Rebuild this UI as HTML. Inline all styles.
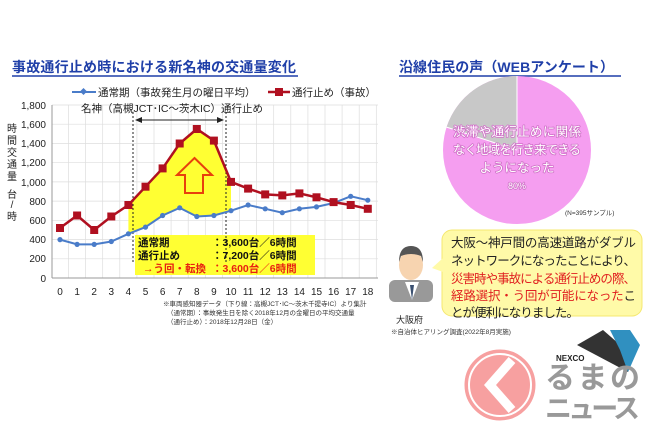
<!DOCTYPE html>
<html><head><meta charset="utf-8"><style>
body{margin:0;background:#fff;width:650px;height:433px;overflow:hidden;font-family:"Liberation Sans","Noto Sans CJK JP",sans-serif}
svg text{font-family:"Liberation Sans","Noto Sans CJK JP",sans-serif}
</style></head><body>
<svg width="650" height="433" viewBox="0 0 650 433">
<rect width="650" height="433" fill="#fff"/>
<text x="12" y="72" font-size="14" font-weight="bold" fill="#1f3fa8" textLength="284">事故通行止め時における新名神の交通量変化</text>
<line x1="12" y1="76" x2="298" y2="76" stroke="#1f3fa8" stroke-width="1.5"/>
<line x1="72" y1="92" x2="96" y2="92" stroke="#4a7cc9" stroke-width="2"/><rect x="81" y="89" width="5" height="5" fill="#4a7cc9" transform="rotate(45 83.5 91.5)"/>
<text x="98" y="96" font-size="10.5" fill="#222">通常期（事故発生月の曜日平均）</text>
<line x1="268" y1="92" x2="290" y2="92" stroke="#b01020" stroke-width="2.5"/><rect x="275" y="88" width="8" height="8" fill="#b01020"/>
<text x="292" y="96" font-size="10.5" fill="#222">通行止め（事故）</text>
<g stroke="#ddd" stroke-width="0.7">
<line x1="52" y1="105" x2="378" y2="105"/><line x1="52" y1="124.2" x2="378" y2="124.2"/><line x1="52" y1="143.4" x2="378" y2="143.4"/><line x1="52" y1="162.7" x2="378" y2="162.7"/><line x1="52" y1="181.9" x2="378" y2="181.9"/><line x1="52" y1="201.1" x2="378" y2="201.1"/><line x1="52" y1="220.3" x2="378" y2="220.3"/><line x1="52" y1="239.6" x2="378" y2="239.6"/><line x1="52" y1="258.8" x2="378" y2="258.8"/>
<line x1="68.5" y1="105" x2="68.5" y2="278"/><line x1="85.6" y1="105" x2="85.6" y2="278"/><line x1="102.7" y1="105" x2="102.7" y2="278"/><line x1="119.8" y1="105" x2="119.8" y2="278"/><line x1="136.9" y1="105" x2="136.9" y2="278"/><line x1="154" y1="105" x2="154" y2="278"/><line x1="171.1" y1="105" x2="171.1" y2="278"/><line x1="188.2" y1="105" x2="188.2" y2="278"/><line x1="205.3" y1="105" x2="205.3" y2="278"/><line x1="222.4" y1="105" x2="222.4" y2="278"/><line x1="239.5" y1="105" x2="239.5" y2="278"/><line x1="256.6" y1="105" x2="256.6" y2="278"/><line x1="273.7" y1="105" x2="273.7" y2="278"/><line x1="290.8" y1="105" x2="290.8" y2="278"/><line x1="307.9" y1="105" x2="307.9" y2="278"/><line x1="325" y1="105" x2="325" y2="278"/><line x1="342.1" y1="105" x2="342.1" y2="278"/><line x1="359.2" y1="105" x2="359.2" y2="278"/><line x1="376.3" y1="105" x2="376.3" y2="278"/>
</g>
<line x1="52" y1="105" x2="52" y2="278" stroke="#999"/><line x1="52" y1="278" x2="378" y2="278" stroke="#999"/>
<g font-size="10" fill="#222" text-anchor="end">
<text x="46" y="109">1,800</text><text x="46" y="128">1,600</text><text x="46" y="147">1,400</text><text x="46" y="166">1,200</text><text x="46" y="186">1,000</text><text x="46" y="205">800</text><text x="46" y="224">600</text><text x="46" y="243">400</text><text x="46" y="262">200</text><text x="46" y="282">0</text>
</g>
<g font-size="10" fill="#222" text-anchor="middle">
<text x="60" y="295">0</text><text x="77.1" y="295">1</text><text x="94.2" y="295">2</text><text x="111.3" y="295">3</text><text x="128.4" y="295">4</text><text x="145.5" y="295">5</text><text x="162.6" y="295">6</text><text x="179.7" y="295">7</text><text x="196.8" y="295">8</text><text x="213.9" y="295">9</text><text x="231" y="295">10</text><text x="248.1" y="295">11</text><text x="265.2" y="295">12</text><text x="282.3" y="295">13</text><text x="299.4" y="295">14</text><text x="316.5" y="295">15</text><text x="333.6" y="295">16</text><text x="350.7" y="295">17</text><text x="367.8" y="295">18</text>
</g>
<g font-size="10" fill="#222" text-anchor="middle">
<text x="12" y="132">時</text><text x="12" y="144">間</text><text x="12" y="156">交</text><text x="12" y="168">通</text><text x="12" y="180">量</text><text x="12" y="198">台</text><text x="12" y="208">/</text><text x="12" y="220">時</text>
</g>
<polygon points="128.4,205 145.5,186.7 162.6,168.4 179.7,143.5 196.8,129 213.9,140.6 231,181.9 231,210.7 213.9,215.5 196.8,216.5 179.7,207.8 162.6,215.5 145.5,227.1 128.4,233.8" fill="#ffff33"/>
<rect x="135" y="235" width="180" height="40" fill="#ffff33"/>
<text x="172" y="112" font-size="10.5" fill="#222" text-anchor="middle">名神（高槻JCT･IC～茨木IC）通行止め</text>
<line x1="133" y1="112" x2="133" y2="262" stroke="#222" stroke-dasharray="2,2"/>
<line x1="226" y1="112" x2="226" y2="262" stroke="#222" stroke-dasharray="2,2"/>
<line x1="137" y1="120" x2="222" y2="120" stroke="#222"/><polygon points="135,120 142,117 142,123" fill="#222"/><polygon points="224,120 217,117 217,123" fill="#222"/>
<polygon points="194.5,158 212,175 203,175 203,193 185,193 185,175 177,175" fill="none" stroke="#e8400c" stroke-width="2"/>
<polyline points="60,239.6 77.1,244.4 94.2,244.4 111.3,241.5 128.4,233.8 145.5,227.1 162.6,215.5 179.7,207.8 196.8,216.5 213.9,215.5 231,210.7 248.1,205 265.2,208.8 282.3,212.7 299.4,208.8 316.5,206.9 333.6,203 350.7,196.3 367.8,200.2" fill="none" stroke="#4a7cc9" stroke-width="2"/>
<g fill="#4a7cc9"><circle cx="60" cy="239.6" r="2.6"/><circle cx="77.1" cy="244.4" r="2.6"/><circle cx="94.2" cy="244.4" r="2.6"/><circle cx="111.3" cy="241.5" r="2.6"/><circle cx="128.4" cy="233.8" r="2.6"/><circle cx="145.5" cy="227.1" r="2.6"/><circle cx="162.6" cy="215.5" r="2.6"/><circle cx="179.7" cy="207.8" r="2.6"/><circle cx="196.8" cy="216.5" r="2.6"/><circle cx="213.9" cy="215.5" r="2.6"/><circle cx="231" cy="210.7" r="2.6"/><circle cx="248.1" cy="205" r="2.6"/><circle cx="265.2" cy="208.8" r="2.6"/><circle cx="282.3" cy="212.7" r="2.6"/><circle cx="299.4" cy="208.8" r="2.6"/><circle cx="316.5" cy="206.9" r="2.6"/><circle cx="333.6" cy="203" r="2.6"/><circle cx="350.7" cy="196.3" r="2.6"/><circle cx="367.8" cy="200.2" r="2.6"/></g>
<polyline points="60,228 77.1,215.5 94.2,230 111.3,216.5 128.4,205 145.5,186.7 162.6,168.4 179.7,143.5 196.8,129 213.9,140.6 231,181.9 248.1,188.6 265.2,194.4 282.3,195.4 299.4,193.4 316.5,197.3 333.6,202.1 350.7,205 367.8,208.8" fill="none" stroke="#b01020" stroke-width="2.5"/>
<g fill="#b01020"><rect x="56" y="224" width="8" height="8"/><rect x="73.1" y="211.5" width="8" height="8"/><rect x="90.2" y="226" width="8" height="8"/><rect x="107.3" y="212.5" width="8" height="8"/><rect x="124.4" y="201" width="8" height="8"/><rect x="141.5" y="182.7" width="8" height="8"/><rect x="158.6" y="164.4" width="8" height="8"/><rect x="175.7" y="139.5" width="8" height="8"/><rect x="192.8" y="125" width="8" height="8"/><rect x="209.9" y="136.6" width="8" height="8"/><rect x="227" y="177.9" width="8" height="8"/><rect x="244.1" y="184.6" width="8" height="8"/><rect x="261.2" y="190.4" width="8" height="8"/><rect x="278.3" y="191.4" width="8" height="8"/><rect x="295.4" y="189.4" width="8" height="8"/><rect x="312.5" y="193.3" width="8" height="8"/><rect x="329.6" y="198.1" width="8" height="8"/><rect x="346.7" y="201" width="8" height="8"/><rect x="363.8" y="204.8" width="8" height="8"/></g>
<g font-size="10.5" font-weight="bold">
<text x="138" y="246" fill="#111">通常期</text><text x="212" y="246" fill="#111">：3,600台／6時間</text>
<text x="138" y="259" fill="#111">通行止め</text><text x="212" y="259" fill="#111">：7,200台／6時間</text>
<text x="143" y="272" fill="#e82010">→う回・転換</text><text x="212" y="272" fill="#e82010">：3,600台／6時間</text>
</g>
<g font-size="6.5" fill="#333"><text x="163" y="306">※車両感知器データ（下り線：高槻JCT･IC～茨木千提寺IC）より集計</text><text x="167" y="315">（通常期）：事故発生日を除く2018年12月の金曜日の平均交通量</text><text x="167" y="324">（通行止め）：2018年12月28日（金）</text></g>
<text x="399" y="72" font-size="14" font-weight="bold" fill="#1f3fa8" textLength="215">沿線住民の声（WEBアンケート）</text>
<line x1="399" y1="76" x2="621" y2="76" stroke="#1f3fa8" stroke-width="1.5"/>
<circle cx="517" cy="150" r="74" fill="#f59ef0"/>
<path d="M517,150 L446.6,127.1 A74,74 0 0 1 517,76 Z" fill="#c8c8c8"/>
<line x1="517" y1="150" x2="517" y2="76" stroke="#fff"/><line x1="517" y1="150" x2="446.6" y2="127.1" stroke="#fff"/>
<g font-size="12.5" fill="#fff" text-anchor="middle" stroke="#d070c8" stroke-width="1.6" paint-order="stroke" stroke-linejoin="round"><text x="517" y="136" textLength="128">渋滞や通行止めに関係</text><text x="517" y="154" textLength="128">なく地域を行き来できる</text><text x="517" y="172">ようになった</text><text x="517" y="189" font-size="9">80%</text></g>
<text x="565" y="215" font-size="6.5" fill="#333">(N=395サンプル)</text>
<rect x="442" y="230" width="200" height="86" rx="10" fill="#fffaa8" stroke="#f5e870"/>
<polygon points="443,258 432,268 443,272" fill="#fffaa8"/>
<g font-size="12.5"><text x="451" y="247" fill="#222" textLength="185">大阪～神戸間の高速道路がダブル</text><text x="451" y="265" fill="#222" textLength="185">ネットワークになったことにより、</text><text x="451" y="283" fill="#e02020" textLength="185">災害時や事故による通行止めの際、</text><text x="451" y="300" fill="#e02020" textLength="185">経路選択・う回が可能になった<tspan fill="#222">こ</tspan></text><text x="451" y="317" fill="#222" textLength="128">とが便利になりました。</text></g>
<rect x="389" y="280" width="44" height="22" rx="6" fill="#999"/>
<polygon points="405,282 412,300 419,282" fill="#fff"/><polygon points="410,285 412,300 414,285" fill="#3a5070"/>
<ellipse cx="411" cy="265" rx="12" ry="15" fill="#f7d4b0"/>
<path d="M399,262 Q399,246 411,246 Q423,246 423,262 L421,256 Q411,252 401,256Z" fill="#555"/>
<text x="396" y="323" font-size="9" fill="#222">大阪府</text>
<text x="391" y="334" font-size="6.5" fill="#333">※自治体ヒアリング調査(2022年8月実施)</text>
<polygon points="577,345 603,330 634,357 628,372" fill="#333"/>
<polygon points="610,330 630,330 640,345 628,372 620,350" fill="#3090c0"/>
<text x="556" y="361" font-size="8" font-weight="bold" fill="#222">NEXCO</text>
<circle cx="500" cy="385" r="37" fill="#f7a0a0" stroke="#fff" stroke-width="3"/>
<circle cx="500" cy="385" r="31" fill="none" stroke="#fff" stroke-width="2"/>
<polyline points="512,360 490,385 512,410" fill="none" stroke="#fff" stroke-width="9"/>
<text x="545" y="388" font-size="30" font-weight="bold" fill="#999" textLength="95">るまの</text>
<text x="545" y="418" font-size="27" font-weight="bold" fill="#999" textLength="95">ニュース</text>
</svg>
</body></html>
